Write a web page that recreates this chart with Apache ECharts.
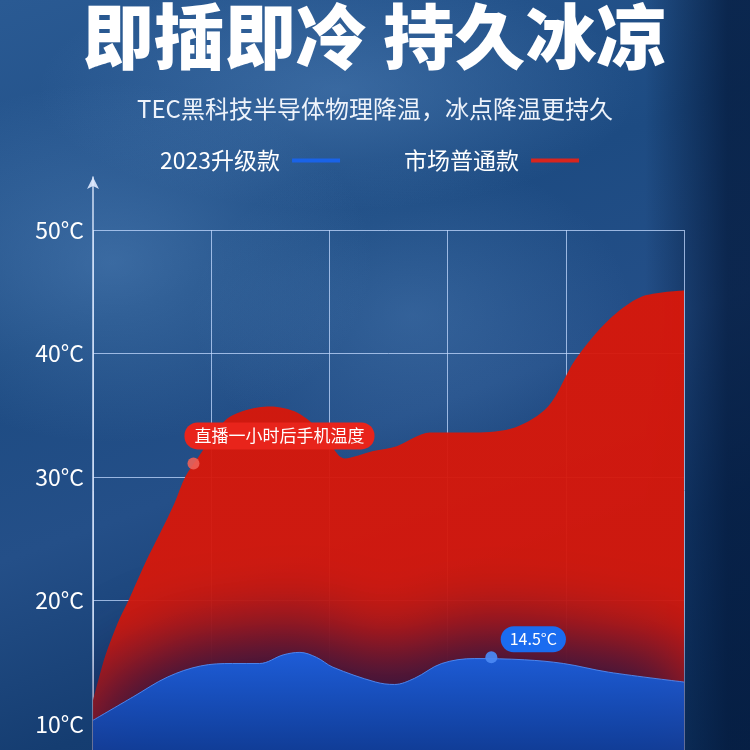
<!DOCTYPE html>
<html>
<head>
<meta charset="utf-8">
<script src="https://cdn.jsdelivr.net/npm/echarts@6/dist/echarts.min.js"></script>
<style>
html,body{margin:0;padding:0;}
#chart{
  width:750px;height:750px;
  background:
    linear-gradient(90deg, rgba(0,0,0,0) 86%, rgba(2,22,55,0.7) 97%),
    radial-gradient(ellipse 260px 180px at 15% 35%, rgba(110,160,215,0.35), rgba(0,0,0,0)),
    radial-gradient(ellipse 300px 120px at 45% 12%, rgba(110,160,215,0.30), rgba(0,0,0,0)),
    radial-gradient(ellipse 220px 160px at 55% 42%, rgba(100,150,205,0.28), rgba(0,0,0,0)),
    linear-gradient(160deg, #2a5a93 0%, #1d4b82 35%, #244f88 55%, #153d71 75%, #0f3463 100%);
}
</style>
</head>
<body>
<div id="chart"></div>
<script>
// 数据
var seriesNames = ['2023升级款', '市场普通款'];
var redX = [0, 0.10, 0.21, 0.30, 0.44, 0.58, 0.69, 0.78, 0.89, 1.12, 1.29, 1.50, 1.73, 1.94, 2.13, 2.37, 2.57, 2.85, 3.23, 3.57, 3.85, 4.08, 4.36, 4.64, 5];
var redY = [11.9, 15.4, 18.2, 20, 23, 25.7, 27.9, 30, 31.6, 34.6, 35.4, 35.7, 35.2, 33.6, 31.5, 32.1, 32.5, 33.6, 33.6, 34, 35.7, 39.5, 42.7, 44.6, 45.1];
var blueX = [0, 0.34, 0.63, 0.91, 1.18, 1.41, 1.61, 1.75, 1.89, 2.03, 2.39, 2.55, 2.72, 2.95, 3.23, 3.65, 3.98, 4.36, 5];
var blueY = [10.3, 12.2, 13.8, 14.7, 14.9, 14.9, 15.6, 15.8, 15.4, 14.6, 13.4, 13.2, 13.7, 14.9, 15.3, 15.2, 14.9, 14.2, 13.4];
var redNote = [0.85, 31.1];
var blueNote = [3.37, 15.4];
var redNoteText = '直播一小时后手机温度';
var blueNoteText = '14.5°C';

function pairs(xs, ys) {
  return xs.map(function (x, i) { return [x, ys[i]]; });
}

var font = '"Noto Sans CJK SC", "Noto Sans", sans-serif';
var myChart = echarts.init(document.getElementById('chart'));
var option = {
  backgroundColor: 'transparent',
  textStyle: { fontFamily: font },
  title: [
    { text: '即插即冷 持久冰凉', left: 'center', top: -4,
      textStyle: { color: '#fff', fontSize: 71, fontWeight: 900, fontFamily: font } },
    { text: 'TEC黑科技半导体物理降温，冰点降温更持久', left: 'center', top: 92,
      textStyle: { color: '#eef3fb', fontSize: 24, fontWeight: 'normal', fontFamily: font } }
  ],
  legend: {
    data: seriesNames,
    top: 144,
    left: 155,
    align: 'right',
    icon: 'rect',
    itemWidth: 48,
    itemHeight: 4,
    itemGap: 64,
    textStyle: { color: '#fff', fontSize: 23, padding: [0, 7, 0, 0], fontFamily: font }
  },
  grid: [
    { left: 93, right: 66, top: 230, bottom: -97.5, outerBoundsMode: 'none' },
    { left: 93, right: 66, top: 177, bottom: 0, outerBoundsMode: 'none' }
  ],
  xAxis: [
    { type: 'value', min: 0, max: 5, interval: 1, gridIndex: 0,
      axisLine: { show: false }, axisTick: { show: false }, axisLabel: { show: false },
      splitLine: { show: true, lineStyle: { color: 'rgba(195,218,255,0.75)', width: 1 } } },
    { type: 'value', gridIndex: 1, show: false }
  ],
  yAxis: [
    { type: 'value', min: 0, max: 50, interval: 10, gridIndex: 0,
      axisLine: { show: false }, axisTick: { show: false },
      axisLabel: { color: '#fff', fontSize: 23, margin: 9, formatter: '{value}°C', fontFamily: font },
      splitLine: { show: true, lineStyle: { color: 'rgba(195,218,255,0.75)', width: 1 } } },
    { type: 'value', gridIndex: 1, min: 0, max: 1,
      axisLine: { show: true, symbol: ['none', 'arrow'], symbolSize: [9, 12],
        lineStyle: { color: 'rgba(225,235,255,0.9)', width: 1.5 } },
      axisTick: { show: false }, axisLabel: { show: false }, splitLine: { show: false } }
  ],
  series: [
    {
      name: '市场普通款', type: 'line', smooth: 0.3, symbol: 'none', z: 2,
      data: pairs(redX, redY),
      itemStyle: { color: '#d8251e' },
      lineStyle: { width: 0 },
      areaStyle: {
        opacity: 0.96,
        color: new echarts.graphic.LinearGradient(0, 0, 0, 1, [
          { offset: 0, color: '#d8170a' },
          { offset: 0.6, color: '#d4180c' },
          { offset: 1, color: '#8a1a2a' }
        ])
      }
    },
    {
      name: '2023升级款', type: 'line', smooth: 0.35, symbol: 'none', z: 3,
      data: pairs(blueX, blueY),
      itemStyle: { color: '#1a63e8' },
      lineStyle: { width: 1, color: 'rgba(80,140,245,0.9)' },
      areaStyle: {
        opacity: 0.95,
        color: new echarts.graphic.LinearGradient(0, 0, 0, 0.5, [
          { offset: 0, color: '#1b60e0' },
          { offset: 1, color: '#0f3f9c' }
        ]),
        shadowColor: 'rgba(25,20,70,0.9)',
        shadowBlur: 70,
        shadowOffsetY: -28
      }
    },
    {
      name: 'redNote', type: 'scatter', z: 5, symbolSize: 12,
      data: [redNote],
      itemStyle: { color: '#f06055', opacity: 0.9 },
      label: {
        show: true, position: 'top', distance: 8, offset: [86, 0], opacity: 1,
        formatter: redNoteText, color: '#fff', fontSize: 17, fontFamily: font,
        backgroundColor: '#e8241b', borderRadius: 13, padding: [5, 10, 5, 10]
      }
    },
    {
      name: 'blueNote', type: 'scatter', z: 5, symbolSize: 12,
      data: [blueNote],
      itemStyle: { color: '#4a88f2', opacity: 0.95 },
      label: {
        show: true, position: 'top', distance: -1, offset: [42, 0], opacity: 1,
        formatter: blueNoteText, color: '#fff', fontSize: 16, fontFamily: font,
        backgroundColor: '#1a6cf0', borderRadius: 13, padding: [5, 9, 5, 9]
      }
    }
  ]
};
myChart.setOption(option, true);
</script>
</body>
</html>
